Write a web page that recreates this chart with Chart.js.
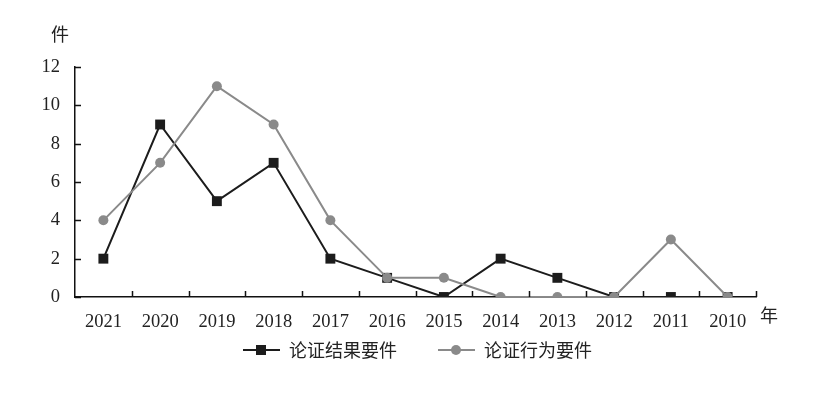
<!DOCTYPE html>
<html lang="zh">
<head>
  <meta charset="UTF-8">
  <title>论证要件</title>
  <script src="https://cdn.jsdelivr.net/npm/chart.js"></script>
  <style>
    body { margin: 0; background: #fff; }
    #wrap { width: 831px; height: 393px; }
  </style>
</head>
<body>
  <div id="wrap"><canvas id="chart" width="831" height="393"></canvas></div>
  <script>
    const years = ["2021", "2020", "2019", "2018", "2017", "2016", "2015", "2014", "2013", "2012", "2011", "2010"];
    const resultValues = [2, 9, 5, 7, 2, 1, 0, 2, 1, 0, 0, 0];
    const actionValues = [4, 7, 11, 9, 4, 1, 1, 0, 0, 0, 3, 0];
    const seriesNames = ["论证结果要件", "论证行为要件"];
    const yTicks = [0, 2, 4, 6, 8, 10, 12];

    const black = "#1c1c1c";
    const gray = "#8a8a8a";
    const cjk = "'Noto Sans CJK SC', sans-serif";
    const serif = "'Liberation Serif', serif";

    // inner tick marks, unit labels and the legend
    const extras = {
      id: "extras",
      afterDraw(chart) {
        const c = chart.ctx;
        const x = chart.scales.x, y = chart.scales.y;
        const area = chart.chartArea;
        c.save();
        c.strokeStyle = "#111";
        c.lineWidth = 1.5;
        c.beginPath();
        yTicks.forEach(v => {
          const py = Math.round(y.getPixelForValue(v)) + 0.5;
          c.moveTo(area.left, py);
          c.lineTo(area.left + 6, py);
        });
        for (let i = 0; i < years.length; i++) {
          const px = i < years.length - 1
            ? (x.getPixelForValue(i) + x.getPixelForValue(i + 1)) / 2
            : area.right;
          c.moveTo(Math.round(px) + 0.5, area.bottom);
          c.lineTo(Math.round(px) + 0.5, area.bottom - 6);
        }
        c.stroke();

        c.fillStyle = "#222";
        c.font = "18px " + cjk;
        c.textBaseline = "middle";
        c.textAlign = "left";
        c.fillText("件", 51, 34);
        c.fillText("年", area.right + 4, 315);

        // legend
        const items = [
          { name: seriesNames[0], color: black, style: "rect", x: 243 },
          { name: seriesNames[1], color: gray, style: "circle", x: 438 }
        ];
        const ly = 350;
        items.forEach(it => {
          c.strokeStyle = it.color;
          c.fillStyle = it.color;
          c.lineWidth = 2;
          c.beginPath();
          c.moveTo(it.x, ly);
          c.lineTo(it.x + 37, ly);
          c.stroke();
          if (it.style === "rect") {
            c.fillRect(it.x + 13, ly - 5, 10, 10);
          } else {
            c.beginPath();
            c.arc(it.x + 18, ly, 5, 0, Math.PI * 2);
            c.fill();
          }
          c.fillStyle = "#222";
          c.font = "18px " + cjk;
          c.fillText(it.name, it.x + 46, ly);
        });
        c.restore();
      }
    };

    new Chart(document.getElementById("chart"), {
      type: "line",
      data: {
        labels: years,
        datasets: [
          {
            label: seriesNames[1],
            data: actionValues,
            borderColor: gray,
            backgroundColor: gray,
            borderWidth: 2,
            pointStyle: "circle",
            pointRadius: 5,
            pointBorderWidth: 0,
            tension: 0,
            order: 0
          },
          {
            label: seriesNames[0],
            data: resultValues,
            borderColor: black,
            backgroundColor: black,
            borderWidth: 2,
            pointStyle: "rect",
            pointRadius: 7,
            pointBorderWidth: 0,
            tension: 0,
            order: 1
          }
        ]
      },
      options: {
        responsive: false,
        animation: false,
        layout: { padding: { top: 67, right: 75, bottom: 56, left: 0 } },
        plugins: {
          legend: { display: false },
          tooltip: { enabled: false }
        },
        scales: {
          x: {
            offset: true,
            grid: { display: false },
            border: { color: "#111", width: 1.5 },
            ticks: {
              color: "#222",
              padding: 6,
              maxRotation: 0,
              font: { family: serif, size: 18.5 }
            },
            afterFit: s => { s.height = 40; }
          },
          y: {
            min: 0,
            max: 12,
            grid: { display: false },
            border: { color: "#111", width: 1.5 },
            ticks: {
              stepSize: 2,
              color: "#222",
              padding: 7,
              font: { family: serif, size: 18.5 }
            },
            afterFit: s => { s.width = 75; }
          }
        }
      },
      plugins: [extras]
    });
  </script>
</body>
</html>
